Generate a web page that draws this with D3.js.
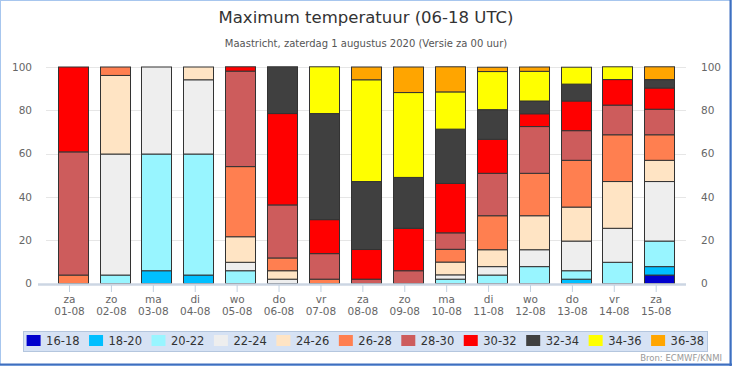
<!DOCTYPE html>
<html><head><meta charset="utf-8">
<script src="https://cdn.jsdelivr.net/npm/d3@7"></script>
<style>
html,body{margin:0;padding:0;background:#fff;}
svg{display:block;}
text{font-family:"DejaVu Sans",sans-serif;}
</style></head>
<body>
<svg id="chart" width="732" height="366"></svg>
<script>
const days = ["za","zo","ma","di","wo","do","vr","za","zo","ma","di","wo","do","vr","za"];
const dates = ["01-08","02-08","03-08","04-08","05-08","06-08","07-08","08-08","09-08","10-08","11-08","12-08","13-08","14-08","15-08"];
const classes = ["16-18","18-20","20-22","22-24","24-26","26-28","28-30","30-32","32-34","34-36","36-38"];
const colors = ["#0000cd","#00bfff","#98f5ff","#eeeeee","#ffe4c4","#ff7f50","#cd5c5c","#ff0000","#404040","#ffff00","#ffa500"];
const s16_18 = [0,0,0,0,0,0,0,0,0,0,0,0,0,0,3.9];
const s18_20 = [0,0,5.9,3.9,0,0,0,0,0,0,0,0,2,0,3.9];
const s20_22 = [0,3.9,53.9,55.9,5.9,0,0,0,0,2,3.9,7.8,3.9,9.8,11.8];
const s22_24 = [0,55.9,40.2,34.3,3.9,2,0,0,0,2,3.9,7.8,13.7,15.7,27.5];
const s24_26 = [0,36.3,0,5.9,11.8,3.9,0,0,0,5.9,7.8,15.7,15.7,21.6,9.8];
const s26_28 = [3.9,3.9,0,0,32.4,5.9,2,0,0,5.9,15.7,19.6,21.6,21.6,11.8];
const s28_30 = [56.9,0,0,0,44.1,24.5,11.8,2,5.9,7.6,19.6,21.6,13.7,13.7,11.8];
const s30_32 = [39.2,0,0,0,2,42.2,15.7,13.7,19.6,22.8,15.7,5.9,13.7,11.8,9.8];
const s32_34 = [0,0,0,0,0,21.6,49,31.4,23.5,25.1,13.7,5.9,7.8,0,3.9];
const s34_36 = [0,0,0,0,0,0,21.6,47,39.2,17.2,17.6,13.7,7.8,5.9,0];
const s36_38 = [0,0,0,0,0,0,0,5.9,11.8,11.6,2,2,0,0,5.9];
const yTicks = [0,20,40,60,80,100];

const series = [s16_18,s18_20,s20_22,s22_24,s24_26,s26_28,s28_30,s30_32,s32_34,s34_36,s36_38];
const rows = dates.map((d,i)=>{const r={date:d}; classes.forEach((c,k)=>r[c]=series[k][i]); return r;});
const stacked = d3.stack().keys(classes)(rows);

const svg = d3.select("#chart");
const W=732,H=366;
const plotL=46, plotR=686;

// frame
svg.append("rect").attr("x",0.5).attr("y",0.5).attr("width",W-1).attr("height",H-1).attr("fill","#fff").attr("stroke","#a7c6ee");
svg.append("line").attr("x1",730.5).attr("x2",730.5).attr("y1",0).attr("y2",H).attr("stroke","#3f6fbf").attr("stroke-width",2);
svg.append("line").attr("x1",0).attr("x2",W).attr("y1",364.5).attr("y2",364.5).attr("stroke","#3f6fbf").attr("stroke-width",2);

const y = d3.scaleLinear().domain([0,100]).range([283.5,67]);
const x = d3.scaleBand().domain(dates).range([51.7,680.3]).paddingInner(0.284).paddingOuter(0.142);
const xt = d3.scalePoint().domain(dates).range([69,655.7]);

// grid
svg.append("g").selectAll("line").data(yTicks.filter(t=>t>0)).join("line")
  .attr("x1",plotL).attr("x2",plotR).attr("y1",d=>Math.round(y(d))+0.5).attr("y2",d=>Math.round(y(d))+0.5)
  .attr("stroke","#e6e6e6");

// y labels
const yl = svg.append("g").attr("transform",`translate(32,0)`).call(d3.axisLeft(y).tickValues(yTicks).tickSize(0).tickPadding(0));
yl.select(".domain").remove();
yl.selectAll("text").attr("fill","#666").style("font-size","10.5px").attr("dy","0.32em");
const yr = svg.append("g").attr("transform",`translate(701,0)`).call(d3.axisRight(y).tickValues(yTicks).tickSize(0).tickPadding(0));
yr.select(".domain").remove();
yr.selectAll("text").attr("fill","#666").style("font-size","10.5px").attr("dy","0.32em");

// bars
const g = svg.append("g");
stacked.forEach((layer,k)=>{
  g.selectAll(null).data(layer.filter(d=>d[1]-d[0]>0)).join("rect")
    .attr("x",d=>Math.round(x(d.data.date))+0.5)
    .attr("y",d=>y(d[1]))
    .attr("width",x.bandwidth())
    .attr("height",d=>y(d[0])-y(d[1]))
    .attr("fill",colors[k]).attr("stroke","#333").attr("stroke-width",1);
});

// x axis
svg.append("line").attr("x1",plotL-8).attr("x2",plotR).attr("y1",284.5).attr("y2",284.5).attr("stroke","#ccd6e3").attr("stroke-width",2.5);
const xa = svg.append("g").attr("transform","translate(0,285)").call(d3.axisBottom(xt).tickSize(7).tickPadding(0).tickFormat(()=>""));
xa.select(".domain").remove();
xa.selectAll(".tick line").attr("stroke","#c0d0e0");
xa.selectAll(".tick").each(function(d,i){
  const t=d3.select(this).append("text").attr("fill","#666").style("font-size","10.5px").attr("text-anchor","middle");
  t.append("tspan").attr("x",0).attr("y",18).text(days[i]);
  t.append("tspan").attr("x",0).attr("y",30).text(dates[i]);
});

// titles
svg.append("text").attr("x",366).attr("y",23).attr("text-anchor","middle").attr("fill","#333").style("font-size","16.5px").text("Maximum temperatuur (06-18 UTC)");
svg.append("text").attr("x",366).attr("y",47).attr("text-anchor","middle").attr("fill","#555").style("font-size","10px").text("Maastricht, zaterdag 1 augustus 2020 (Versie za 00 uur)");

// legend
svg.append("rect").attr("x",23.5).attr("y",331.5).attr("width",684).attr("height",20).attr("fill","#d6e2f4").attr("stroke","#b4c6de");
const lg = svg.append("g").selectAll("g").data(classes).join("g").attr("transform",(d,i)=>`translate(${26.6+62.45*i},0)`);
lg.append("rect").attr("x",0).attr("y",335).attr("width",14).attr("height",11).attr("fill",(d,i)=>colors[i]);
lg.append("text").attr("x",19.5).attr("y",345).attr("fill","#333").style("font-size","11.5px").text(d=>d);

svg.append("text").attr("x",722).attr("y",361).attr("text-anchor","end").attr("fill","#999").style("font-size","8.5px").text("Bron: ECMWF/KNMI");
</script>
</body></html>
